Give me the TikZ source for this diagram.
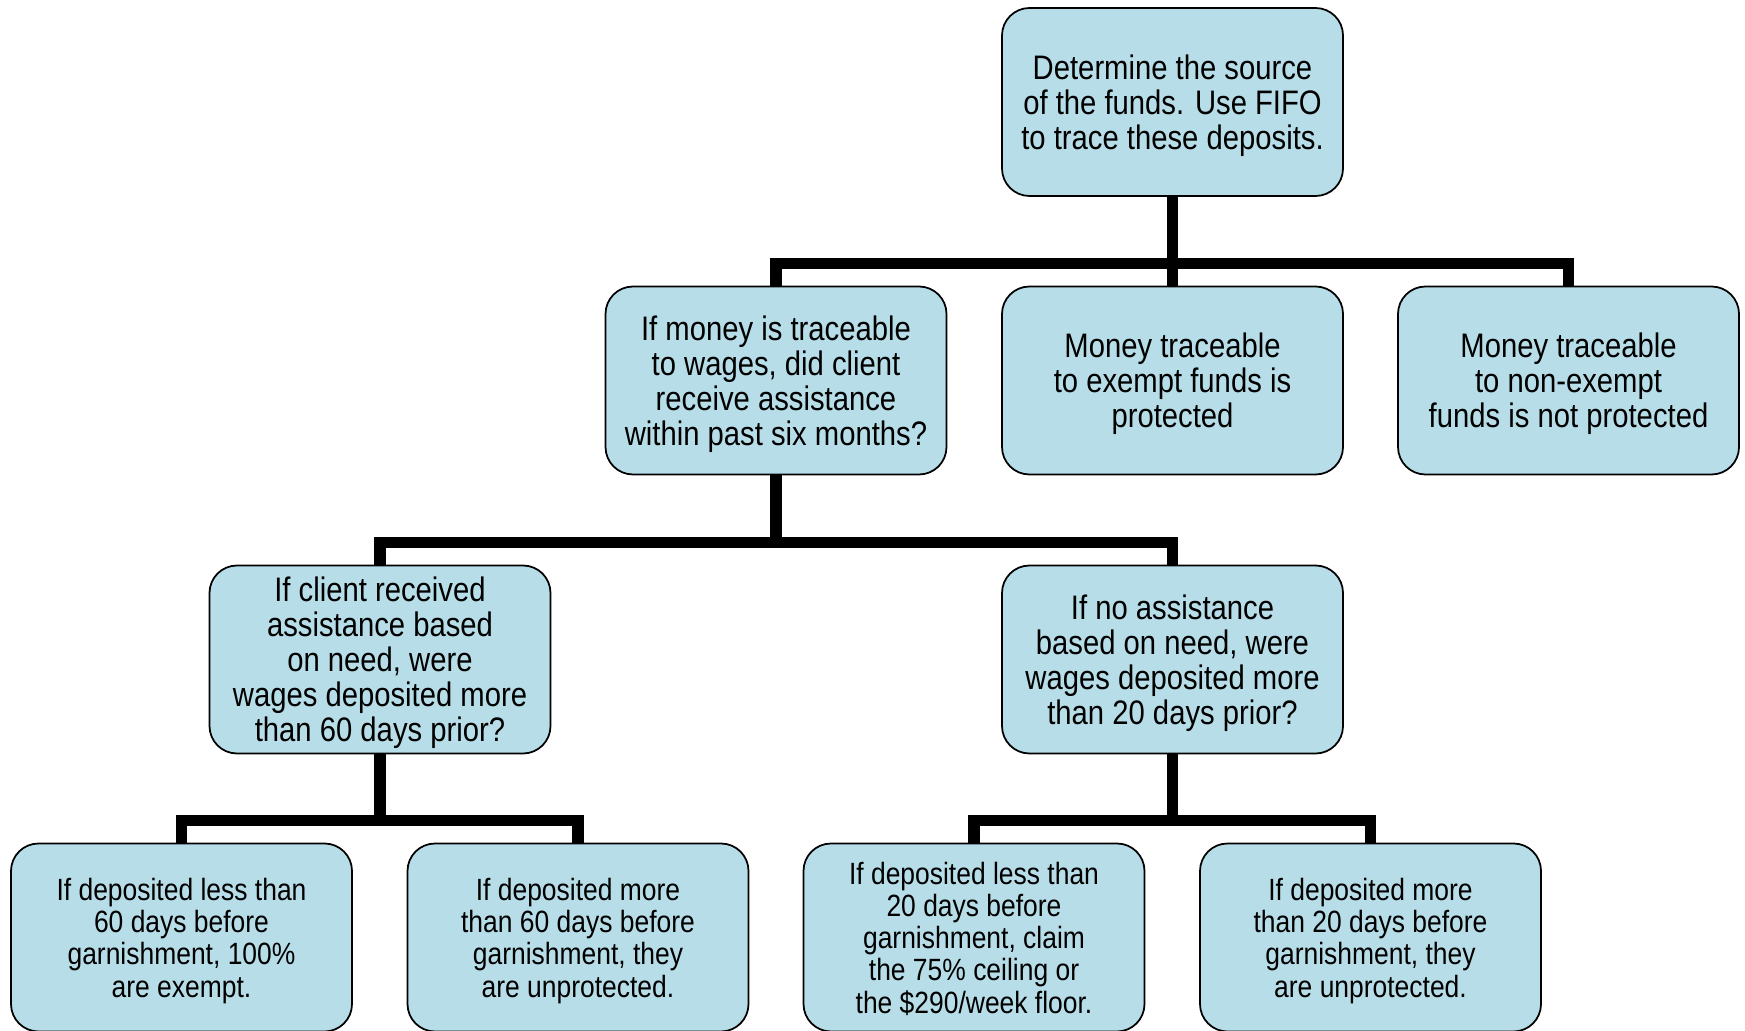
\documentclass[tikz,border=0pt]{standalone}
\usepackage{fontspec}
\setmainfont{Liberation Sans}[FakeStretch=0.86]
\definecolor{boxfill}{HTML}{B7DEE8}

\begin{document}
\begin{tikzpicture}[x=0.4pt, y=-0.4pt,
stepnode/.style={rectangle, rounded corners=11pt, draw=black, line width=0.7pt, fill=boxfill, minimum width=136.4pt, minimum height=75.2pt, inner sep=0pt, align=center, font=\fontsize{13.6}{14}\selectfont, text depth=-0.7pt},
leafnode/.style={stepnode, font=\fontsize{12.3}{12.9}\selectfont, text depth=-3pt},
link/.style={line width=4.5pt},
]
\fill[white] (0,0) rectangle (1745,1031);
\useasboundingbox (0,0) rectangle (1745,1031);

\node[stepnode]          (source)    at (1172.5,102)   {Determine the source\\of the funds. Use FIFO\\to trace these deposits.};
\node[stepnode]          (wages)     at (776,380.5)    {If money is traceable\\to wages, did client\\receive assistance\\within past six months?};
\node[stepnode]          (exempt)    at (1172.5,380.5) {Money traceable\\to exempt funds is\\protected};
\node[stepnode]          (nonexempt) at (1568.5,380.5) {Money traceable\\to non-exempt\\funds is not protected};
\node[stepnode]          (need)      at (380,659.5)    {If client received\\assistance based\\on need, were\\wages deposited more\\than 60 days prior?};
\node[stepnode]          (noneed)    at (1172.5,659.5) {If no assistance\\based on need, were\\wages deposited more\\than 20 days prior?};
\node[leafnode]          (lesssixty) at (181.5,937.5)  {If deposited less than\\60 days before\\garnishment, 100\%\\are exempt.};
\node[leafnode]          (moresixty) at (578,937.5)    {If deposited more\\than 60 days before\\garnishment, they\\are unprotected.};
\node[leafnode]          (lesstwenty) at (974,937.5)   {If deposited less than\\20 days before\\garnishment, claim\\the 75\% ceiling or\\the \$290/week floor.};
\node[leafnode]          (moretwenty) at (1370.5,937.5) {If deposited more\\than 20 days before\\garnishment, they\\are unprotected.};

\draw[link] (source.south) -- ++(0,67) -| (wages.north);
\draw[link] (source.south) -- ++(0,67) -| (exempt.north);
\draw[link] (source.south) -- ++(0,67) -| (nonexempt.north);
\draw[link] (wages.south) -- ++(0,67) -| (need.north);
\draw[link] (wages.south) -- ++(0,67) -| (noneed.north);
\draw[link] (need.south) -- ++(0,66) -| (lesssixty.north);
\draw[link] (need.south) -- ++(0,66) -| (moresixty.north);
\draw[link] (noneed.south) -- ++(0,66) -| (lesstwenty.north);
\draw[link] (noneed.south) -- ++(0,66) -| (moretwenty.north);

\end{tikzpicture}
\end{document}
